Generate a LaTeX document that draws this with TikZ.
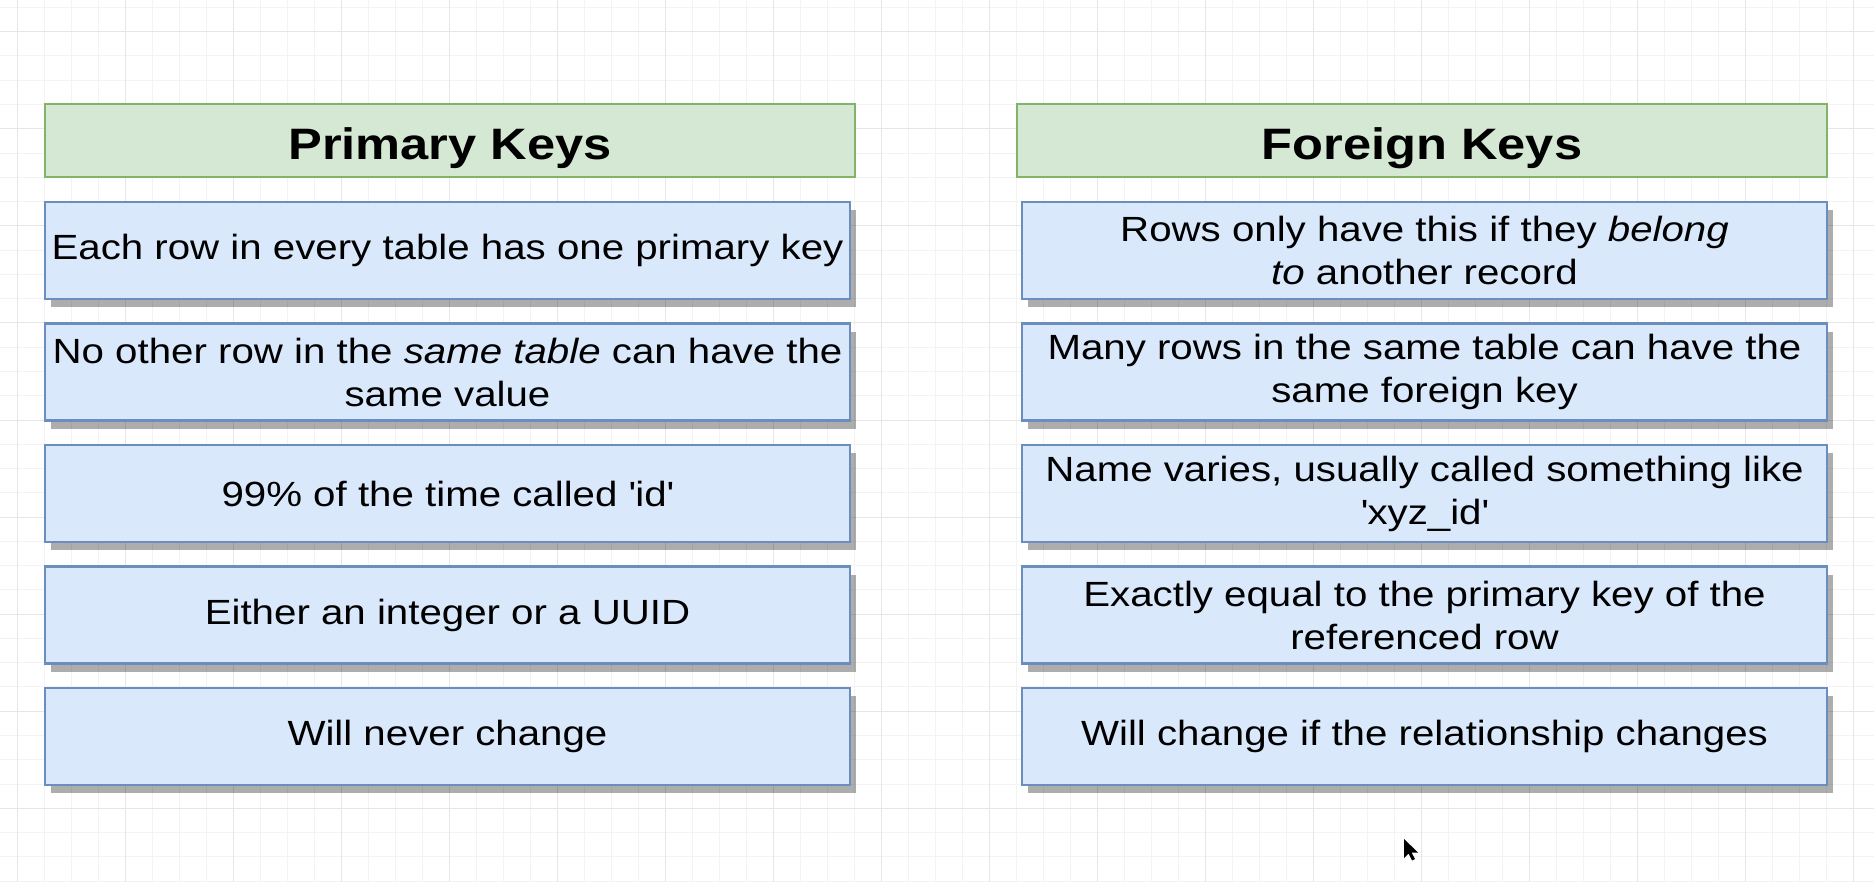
\documentclass[tikz,border=0pt]{standalone}
\usepackage{fontspec}
\setmainfont{Liberation Sans}[FakeStretch=1.15]
\usepackage{tikz}
\usetikzlibrary{positioning, shadows}
\definecolor{headfill}{HTML}{D5E8D4}
\definecolor{headline}{HTML}{82B366}
\definecolor{itemfill}{HTML}{DAE8FC}
\definecolor{itemline}{HTML}{6C8EBF}
\definecolor{gridminor}{HTML}{F3F3F3}
\definecolor{gridmajor}{HTML}{E6E6E6}

\begin{document}
\begin{tikzpicture}[
	x=0.5pt, y=-0.5pt,
	node distance=12.25pt,
	headspace/.style={rectangle, draw=headline, fill=headfill, line width=1.2pt,
		minimum width=405pt, minimum height=36.5pt, outer sep=0pt,
		text height=19.5pt, text depth=0pt,
		font=\fontsize{22}{26}\selectfont\bfseries},
	itemspace/.style={rectangle, draw=itemline, fill=itemfill, line width=1.2pt,
		minimum width=402.5pt, minimum height=48.5pt, outer sep=0pt,
		inner xsep=1pt, align=center, font=\fontsize{17.5}{21.5}\selectfont,
		drop shadow={shadow xshift=3pt, shadow yshift=-4pt, fill=black, opacity=0.32}},
	gridminorline/.style={draw=gridminor, line width=0.5pt},
	gridmajorline/.style={draw=gridmajor, line width=0.5pt}
	]
	
	\useasboundingbox (0,0) rectangle (1874,882);
	\fill[white] (0,0) rectangle (1874,882);
	
	% Background grid
	\foreach \i in {0,...,68}
		\draw[gridminorline] ({17+27*\i},0) -- ++(0,882);
	\foreach \j in {0,...,36}
		\draw[gridminorline] (0,{7.43+24.27*\j}) -- ++(1874,0);
	\foreach \i in {0,...,17}
		\draw[gridmajorline] ({17+108*\i},0) -- ++(0,882);
	\foreach \j in {0,...,8}
		\draw[gridmajorline] (0,{31.7+97.08*\j}) -- ++(1874,0);
	
	% Column 1: Primary keys
	\node[headspace] (PK) at (450,140.5) {Primary Keys};
	\node[itemspace] (PK1) [below=12.5pt of PK.south west, anchor=north west] {Each row in every table has one primary key};
	\node[itemspace] (PK2) [below=of PK1] {No other row in the \textit{same table} can have the \\ same value};
	\node[itemspace] (PK3) [below=of PK2] {99\% of the time called \textquotesingle id\textquotesingle};
	\node[itemspace] (PK4) [below=of PK3] {Either an integer or a UUID};
	\node[itemspace] (PK5) [below=of PK4] {Will never change};
	
	% Column 2: Foreign keys
	\node[headspace] (FK) at (1422,140.5) {Foreign Keys};
	\node[itemspace] (FK1) [below=12.5pt of FK.south east, anchor=north east] {Rows only have this if they \textit{belong} \\ \textit{to} another record};
	\node[itemspace] (FK2) [below=of FK1] {Many rows in the same table can have the \\ same foreign key};
	\node[itemspace] (FK3) [below=of FK2] {Name varies, usually called something like \\ \textquotesingle xyz\_id\textquotesingle};
	\node[itemspace] (FK4) [below=of FK3] {Exactly equal to the primary key of the \\ referenced row};
	\node[itemspace] (FK5) [below=of FK4] {Will change if the relationship changes};
	
	% Mouse pointer
	\fill[black] (1404,839) -- ++(0,19) -- ++(4.5,-4.5) -- ++(3.5,7) -- ++(3,-1.5)
		-- ++(-3.5,-6.5) -- ++(6.5,0) -- cycle;
	
\end{tikzpicture}
\end{document}
